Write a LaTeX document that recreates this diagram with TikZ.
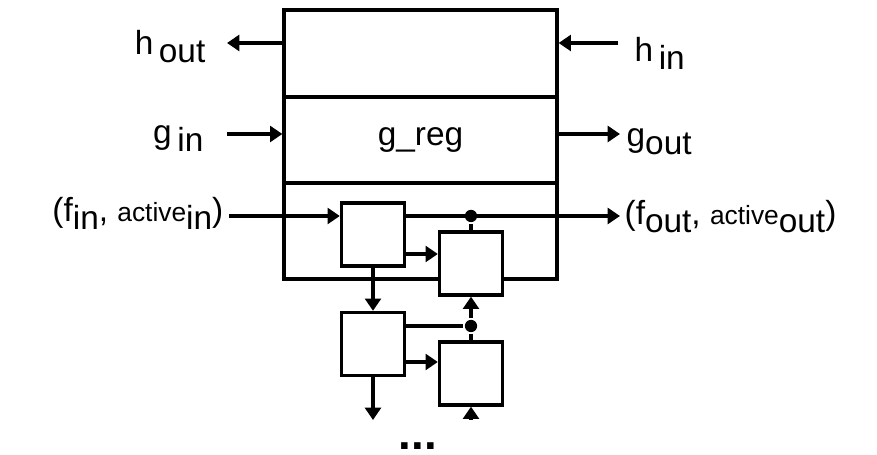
\documentclass[tikz,border=0pt]{standalone}
\usepackage{fontspec}
\setmainfont{Liberation Sans}
\usetikzlibrary{arrows.meta,positioning}
\newcommand{\lo}[1]{\raisebox{-0.4ex}{#1}}
\newcommand{\sm}[1]{{\fontsize{15}{18}\selectfont #1}}

\begin{document}
\begin{tikzpicture}[x=0.02cm,y=-0.02cm,line width=1.9pt,
	font=\fontsize{19}{22}\selectfont,
	arr/.style={-{Triangle[length=7pt,width=9pt]}},
	sect/.style={draw,minimum width=5.46cm,inner sep=0pt},
	cell/.style={draw,fill=white,minimum width=1.26cm,minimum height=1.26cm,inner sep=0pt},
	junc/.style={circle,fill,inner sep=0pt,minimum size=7pt},
	lbl/.style={inner sep=0pt}]
		
		\useasboundingbox (0,0) rectangle (877,455);
		
		% Register sections
		\node[sect,minimum height=1.74cm] (hreg) at (420.5,53.5) {};
		\node[sect,minimum height=1.72cm] (greg) at (420.5,140) {g\_reg};
		\node[sect,minimum height=1.92cm] (freg) at (420.5,231) {};
		
		% Cells
		\node[cell] (c1) at (373,234.5) {};
		\node[cell] (c2) at (471,263.5) {};
		\node[cell] (c3) at (373,344) {};
		\node[cell] (c4) at (471,373.5) {};
		
		% Labels
		\node[lbl,anchor=base east] (hout) at (207,55) {h\,\lo{out}};
		\node[lbl,anchor=base east] (gin) at (205,144) {g\,\lo{in}};
		\node[lbl,anchor=base east] (fin) at (225,222) {(f\lo{in}, \sm{active}\lo{in})};
		\node[lbl,anchor=base west] (hin) at (633,62) {h\,\lo{in}};
		\node[lbl,anchor=base west] (gout) at (625,147) {g\lo{out}};
		\node[lbl,anchor=base west] (fout) at (623,225) {(f\lo{out}, \sm{active}\lo{out})};
		
		% Free ends
		\coordinate (hl) at (227,43);
		\coordinate (hr) at (618,43);
		\coordinate (gl) at (227,134);
		\coordinate (gr) at (620,134);
		\coordinate (fl) at (229,216);
		\coordinate (fr) at (620,216);
		\coordinate (d1) at (373,420);
		\coordinate (d2) at (471,420);
		
		% h and g signals
		\draw[arr] (hl -| hreg.west) -- (hl);
		\draw[arr] (hr) -- (hr -| hreg.east);
		\draw[arr] (gl) -- (gl -| greg.west);
		\draw[arr] (gl -| greg.east) -- (gr);
		
		% f signal through the cells
		\draw[arr] (fl) -- (fl -| c1.west);
		\draw[arr] (fl -| c1.east) -- (fr);
		\node[junc] (j1) at (c2.north |- fr) {};
		\draw (j1) -- (c2.north);
		\draw[arr] ([yshift=-0.39cm]c1.east) -- ([yshift=-0.39cm]c1.east -| c2.west);
		\draw[arr] (c1.south) -- (c3.north);
		\node[junc] (j2) at ([yshift=0.36cm]c3.east -| c2.south) {};
		\draw ([yshift=0.36cm]c3.east) -- (j2);
		\draw[arr] (j2) -- (c2.south);
		\draw (j2) -- (c4.north);
		\draw[arr] ([yshift=-0.36cm]c3.east) -- ([yshift=-0.36cm]c3.east -| c4.west);
		\draw[arr] (c3.south) -- (d1);
		\draw[arr] (d2) -- (c4.south);
		
		% More cells
		\node[lbl,anchor=base] (more) at (418,450) {\fontsize{26}{26}\selectfont\bfseries ...};
		
\end{tikzpicture}
\end{document}
